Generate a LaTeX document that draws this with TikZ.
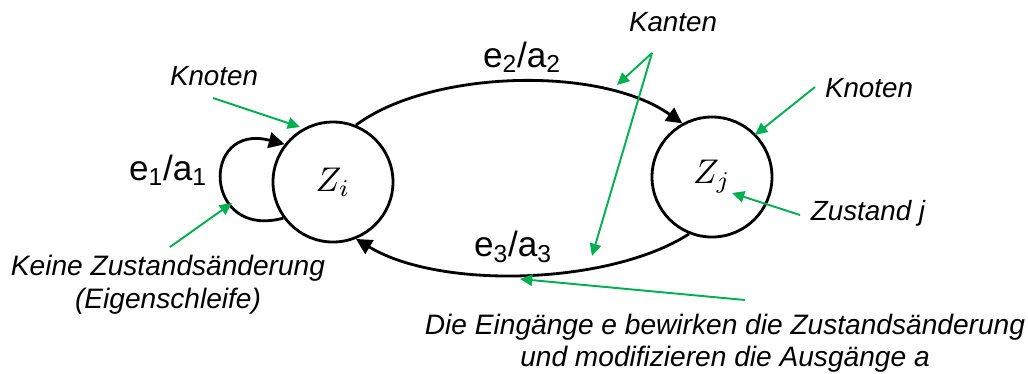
\documentclass[tikz,border=0pt]{standalone}
\usepackage{fontspec}
\setmainfont{Liberation Sans}
\usetikzlibrary{arrows.meta}
\definecolor{lgreen}{HTML}{00B050}
\tikzset{
  state/.style={circle,draw,line width=1.6pt,minimum size=120*0.02cm,inner sep=0pt},
  edge/.style={line width=1.6pt,-{Triangle[length=9pt,width=9pt]}},
  note/.style={font=\fontsize{15.8}{18}\selectfont\itshape,inner sep=0pt},
  elabel/.style={font=\fontsize{20}{22}\selectfont,inner sep=0pt},
  hint/.style={draw=lgreen,line width=1.1pt,-{Triangle[length=7pt,width=6.5pt]}}
}
\begin{document}
\begin{tikzpicture}[x=0.02cm,y=-0.02cm]
\useasboundingbox (0,0) rectangle (1028,373);
\node[state] (zi) at (333,182) {\scalebox{1.95}{$Z_i$}};
\node[state] (zj) at (712,177) {\scalebox{1.95}{$Z_j$}};
% edges
\draw[edge] (zi.68) .. controls (430,70) and (600,65) .. (zj.119);
\draw[edge] (zj.248) .. controls (610,285) and (440,290) .. (zi.292);
\draw[edge] (zi.216) .. controls (203,240) and (200,122) .. (zi.142);
% edge labels
\node[elabel] (l1) at (168,170) {e\textsubscript{1}/a\textsubscript{1}};
\node[elabel] (l2) at (522,57) {e\textsubscript{2}/a\textsubscript{2}};
\node[elabel] (l3) at (513,247) {e\textsubscript{3}/a\textsubscript{3}};
% notes
\node[note] (kanten) at (673,22) {Kanten};
\node[note] (knl) at (214,76) {Knoten};
\node[note] (knr) at (869,88) {Knoten};
\node[note] (zus) at (868,213) {Zustand j};
\node[note,align=center,font=\fontsize{16}{18.7}\selectfont\itshape] (keine) at (168,285) {Keine Zustandsänderung\\(Eigenschleife)};
\node[note,align=center,font=\fontsize{16}{18}\selectfont\itshape] (die) at (725,343) {Die Eingänge e bewirken die Zustandsänderung\\und modifizieren die Ausgänge a};
% hint coordinates
\coordinate (kt) at (652,53);
\coordinate (kh1) at (617,85);
\coordinate (kh2) at (592,256);
\coordinate (klt) at (213,98);
\coordinate (klh) at (300,127);
\coordinate (krt) at (815,87);
\coordinate (krh) at (755,135);
\coordinate (zt) at (800,215);
\coordinate (zh) at (732,193);
\coordinate (et) at (170,247);
\coordinate (eh) at (232,203);
\coordinate (dt) at (745,300);
\coordinate (dh) at (520,279);
\draw[hint] (kt) -- (kh1);
\draw[hint] (kt) -- (kh2);
\draw[hint] (klt) -- (klh);
\draw[hint] (krt) -- (krh);
\draw[hint] (zt) -- (zh);
\draw[hint] (et) -- (eh);
\draw[hint] (dt) -- (dh);
\end{tikzpicture}
\end{document}
